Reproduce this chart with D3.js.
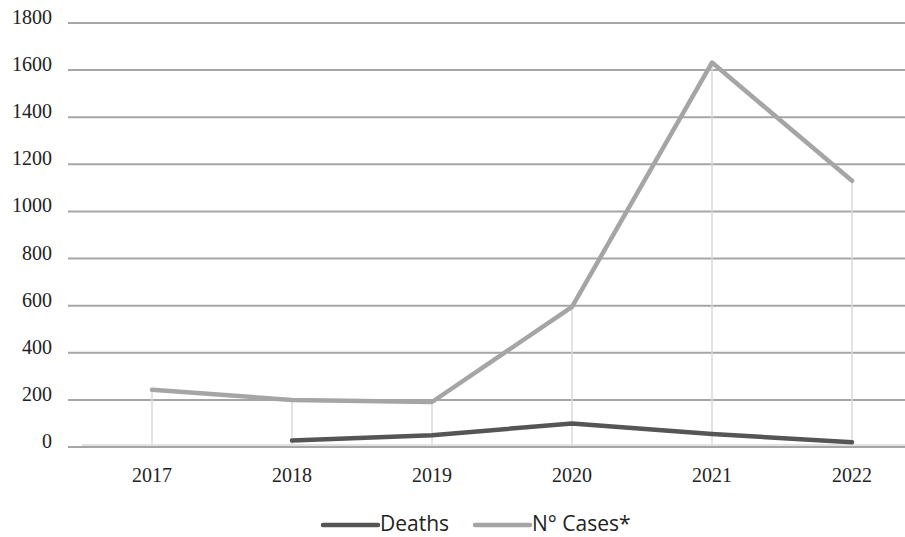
<!DOCTYPE html>
<html><head><meta charset="utf-8">
<script src="https://cdn.jsdelivr.net/npm/d3@7"></script>
<style>body{margin:0;background:#fff}svg{display:block}</style>
</head><body>
<svg id="c" width="905" height="537"></svg>
<script>
const years = ["2017","2018","2019","2020","2021","2022"];
const deaths = [null, 28, 50, 100, 55, 20];
const cases = [243, 200, 191, 595, 1632, 1130];
const yTicks = [0,200,400,600,800,1000,1200,1400,1600,1800];
const seriesNames = ["Deaths","N° Cases*"];

const serif = "'Liberation Serif', 'Times New Roman', serif";
const sans = "'Open Sans', 'Noto Sans', sans-serif";
const svg = d3.select("#c");
const x = d3.scalePoint().domain(years).range([152, 852]);
const y = d3.scaleLinear().domain([0,1800]).range([447, 23]);

// gridlines
svg.append("g").selectAll("line").data(yTicks).join("line")
  .attr("x1",68).attr("x2",905).attr("y1",d=>y(d)).attr("y2",d=>y(d))
  .attr("stroke","#a6a6a6").attr("stroke-width",2);

// y labels
svg.append("g").selectAll("text").data(yTicks).join("text")
  .attr("x",52).attr("y",d=>y(d)+1).attr("text-anchor","end")
  .style("font-family",serif).style("font-size","20px").attr("fill","#222")
  .text(d=>d);

// baseline light
svg.append("line").attr("x1",82).attr("x2",905).attr("y1",y(0)-2).attr("y2",y(0)-2)
  .attr("stroke","#d9d9d9").attr("stroke-width",1.5);

// drop lines
svg.append("g").selectAll("line").data(years).join("line")
  .attr("x1",d=>x(d)).attr("x2",d=>x(d))
  .attr("y1",(d,i)=>y(Math.max(cases[i], deaths[i]??0))).attr("y2",y(0)-2)
  .attr("stroke","#d9d9d9").attr("stroke-width",1.5);

// x labels
svg.append("g").selectAll("text").data(years).join("text")
  .attr("x",d=>x(d)).attr("y",482).attr("text-anchor","middle")
  .style("font-family",serif).style("font-size","20px").attr("fill","#222")
  .text(d=>d);

const line = d3.line().defined(d=>d[1]!=null).x(d=>x(d[0])).y(d=>y(d[1]));
svg.append("path").datum(years.map((yr,i)=>[yr,cases[i]]))
  .attr("d",line).attr("fill","none").attr("stroke","#a5a5a5").attr("stroke-width",4.5)
  .attr("stroke-linejoin","round").attr("stroke-linecap","round");
svg.append("path").datum(years.map((yr,i)=>[yr,deaths[i]]))
  .attr("d",line).attr("fill","none").attr("stroke","#555555").attr("stroke-width",4.5)
  .attr("stroke-linejoin","round").attr("stroke-linecap","round");

// legend
const leg = [{n:seriesNames[0],c:"#555555",x:323},{n:seriesNames[1],c:"#a5a5a5",x:475}];
const lg = svg.append("g");
leg.forEach(l=>{
  lg.append("line").attr("x1",l.x).attr("x2",l.x+55).attr("y1",525).attr("y2",525)
    .attr("stroke",l.c).attr("stroke-width",4.5).attr("stroke-linecap","round");
  lg.append("text").attr("x",l.x+57).attr("y",531)
    .style("font-family",sans).style("font-size","21px").attr("fill","#222")
    .text(l.n);
});
</script>
</body></html>
